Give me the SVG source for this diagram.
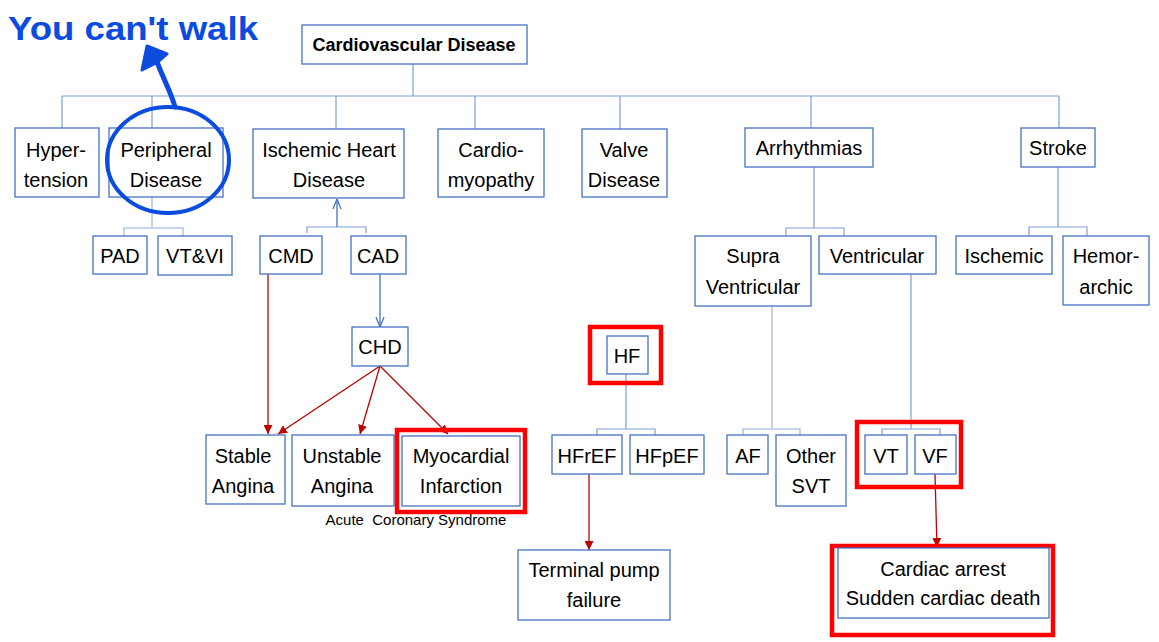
<svg xmlns="http://www.w3.org/2000/svg" width="1159" height="642" viewBox="0 0 1159 642">
<style>
.b{fill:#fff;stroke:#4472C4;stroke-width:1.3}
.t{font-family:"Liberation Sans",Arial,sans-serif;font-size:20px;fill:#000;text-anchor:middle}
.ln{fill:none;stroke:#7F9FDB;stroke-width:1.2}
.lt{fill:none;stroke:#B4C7E7;stroke-width:1.6}
.ra{fill:none;stroke:#C00000;stroke-width:1.3;marker-end:url(#rh)}
.ba{fill:none;stroke:#4472C4;stroke-width:1.3;marker-end:url(#bh)}
.hl{fill:none;stroke:#FF0000;stroke-width:4.5}
.ink{fill:none;stroke:#0B4BE0;stroke-linecap:round;stroke-linejoin:round}
</style>
<defs>
<marker id="rh" viewBox="0 0 10 10" refX="10" refY="5" markerWidth="9" markerHeight="9" markerUnits="userSpaceOnUse" orient="auto"><path d="M0,0 L10,5 L0,10 z" fill="#C00000"/></marker>
<marker id="bh" viewBox="0 0 10 10" refX="10" refY="5" markerWidth="10" markerHeight="10" markerUnits="userSpaceOnUse" orient="auto"><path d="M0,1 L10,5 L0,9" fill="none" stroke="#4472C4" stroke-width="1.3"/></marker>
</defs>
<rect width="1159" height="642" fill="#fff"/>
<g id="connectors">
<path class="ln" d="M413,64 V96 M62,96 H1059 M62,96 V128 M152,96 V128 M336,96 V129 M475,96 V129 M620,96 V129 M811,96 V128 M1059,96 V128"/>
<path class="lt" d="M152,197 V228 M124,236 V228 H183 V236"/>
<path class="ln" d="M307,233 V227 H366 V233"/>
<path class="ba" d="M337,227 V199"/>
<path class="ba" d="M380,274 V327"/>
<path class="ra" d="M268,274 V434"/>
<path class="ra" d="M380,366 L278,434"/>
<path class="ra" d="M380,366 L360,434"/>
<path class="ra" d="M380,366 L448,434"/>
<path class="ln" d="M814,167 V228 M786,236 V228 H844 V236"/>
<path class="ln" d="M1058,167 V227 M1029,236 V227 H1087 V236"/>
<path class="lt" d="M772,306 V429 M743,435 V429 H800 V435"/>
<path class="ln" d="M911,274 V429 M882,435 V429 H940 V435"/>
<path class="ln" d="M626,374 V429 M597,435 V429 H655 V435"/>
<path class="ra" d="M589,474 V550"/>
<path class="ra" d="M935,474 L937,547"/>
</g>
<g id="n-cvd"><rect class="b" x="302" y="25" width="225" height="39"/><text class="t" x="414" y="51" style="font-weight:bold;font-size:18px">Cardiovascular Disease</text></g>
<g id="n-htn"><rect class="b" x="15" y="128" width="84" height="69"/><text class="t" x="56" y="157">Hyper-</text><text class="t" x="56" y="187">tension</text></g>
<g id="n-pd"><rect class="b" x="109" y="128" width="114" height="69"/><text class="t" x="166" y="157">Peripheral</text><text class="t" x="166" y="187">Disease</text></g>
<g id="n-ihd"><rect class="b" x="253" y="129" width="151" height="69"/><text class="t" x="329" y="157">Ischemic Heart</text><text class="t" x="329" y="187">Disease</text></g>
<g id="n-cm"><rect class="b" x="438" y="129" width="106" height="68"/><text class="t" x="491" y="157">Cardio-</text><text class="t" x="491" y="187">myopathy</text></g>
<g id="n-valve"><rect class="b" x="582" y="129" width="85" height="68"/><text class="t" x="624" y="157">Valve</text><text class="t" x="624" y="187">Disease</text></g>
<g id="n-arr"><rect class="b" x="745" y="128" width="128" height="39"/><text class="t" x="809" y="155">Arrhythmias</text></g>
<g id="n-stroke"><rect class="b" x="1021" y="128" width="74" height="39"/><text class="t" x="1058" y="155">Stroke</text></g>
<g id="n-pad"><rect class="b" x="93" y="236" width="54" height="38"/><text class="t" x="120" y="263">PAD</text></g>
<g id="n-vtvi"><rect class="b" x="158" y="236" width="74" height="39"/><text class="t" x="195" y="263">VT&amp;VI</text></g>
<g id="n-cmd"><rect class="b" x="260" y="236" width="62" height="38"/><text class="t" x="291" y="263">CMD</text></g>
<g id="n-cad"><rect class="b" x="351" y="236" width="55" height="38"/><text class="t" x="378" y="263">CAD</text></g>
<g id="n-sv"><rect class="b" x="695" y="236" width="116" height="70"/><text class="t" x="753" y="263">Supra</text><text class="t" x="753" y="294">Ventricular</text></g>
<g id="n-vent"><rect class="b" x="819" y="236" width="117" height="38"/><text class="t" x="877" y="263">Ventricular</text></g>
<g id="n-isch"><rect class="b" x="956" y="236" width="96" height="38"/><text class="t" x="1004" y="263">Ischemic</text></g>
<g id="n-hem"><rect class="b" x="1063" y="236" width="86" height="69"/><text class="t" x="1106" y="263">Hemor-</text><text class="t" x="1106" y="294">archic</text></g>
<g id="n-chd"><rect class="b" x="352" y="327" width="56" height="39"/><text class="t" x="380" y="354">CHD</text></g>
<g id="n-hf"><rect class="hl" x="590" y="327" width="71" height="56"/><rect class="b" x="607" y="336" width="41" height="38"/><text class="t" x="627" y="363">HF</text></g>
<g id="n-sa"><rect class="b" x="206" y="435" width="79" height="69"/><text class="t" x="243" y="463">Stable</text><text class="t" x="243" y="493">Angina</text></g>
<g id="n-ua"><rect class="b" x="292" y="435" width="102" height="71"/><text class="t" x="342" y="463">Unstable</text><text class="t" x="342" y="493">Angina</text></g>
<g id="n-mi"><rect class="hl" x="397" y="430" width="128" height="82"/><rect class="b" x="402" y="436" width="118" height="70"/><text class="t" x="461" y="463">Myocardial</text><text class="t" x="461" y="493">Infarction</text></g>
<text x="416" y="525" style="font-family:'Liberation Sans',Arial,sans-serif;font-size:15px;text-anchor:middle" xml:space="preserve">Acute  Coronary Syndrome</text>
<g id="n-hfref"><rect class="b" x="552" y="435" width="70" height="39"/><text class="t" x="587" y="463">HFrEF</text></g>
<g id="n-hfpef"><rect class="b" x="630" y="435" width="74" height="39"/><text class="t" x="667" y="463">HFpEF</text></g>
<g id="n-af"><rect class="b" x="727" y="435" width="41" height="39"/><text class="t" x="748" y="463">AF</text></g>
<g id="n-svt"><rect class="b" x="776" y="435" width="70" height="71"/><text class="t" x="811" y="463">Other</text><text class="t" x="811" y="493">SVT</text></g>
<g id="n-vtvf-hl"><rect class="hl" x="857" y="422" width="104" height="65"/></g>
<g id="n-vt"><rect class="b" x="865" y="435" width="42" height="39"/><text class="t" x="886" y="463">VT</text></g>
<g id="n-vf"><rect class="b" x="915" y="435" width="41" height="39"/><text class="t" x="935" y="463">VF</text></g>
<g id="n-tpf"><rect class="b" x="518" y="550" width="152" height="70"/><text class="t" x="594" y="577">Terminal pump</text><text class="t" x="594" y="607">failure</text></g>
<g id="n-ca"><rect class="hl" x="832" y="546" width="221" height="89"/><rect class="b" x="838" y="548" width="211" height="70"/><text class="t" x="943" y="576">Cardiac arrest</text><text class="t" x="943" y="605">Sudden cardiac death</text></g>
<g id="annotation">
<ellipse class="ink" cx="168" cy="160" rx="61" ry="53" stroke-width="4"/>
<path class="ink" d="M175,107 C172,95 164,80 157,62" stroke-width="5"/>
<path d="M142,70 L147,46 L167,54 L158,62 Z" fill="#0B4BE0" stroke="#0B4BE0" stroke-width="3" stroke-linejoin="round"/>
<text x="8" y="40" textLength="250" lengthAdjust="spacingAndGlyphs" style="font-family:'Liberation Sans',Arial,sans-serif;font-size:34px;font-weight:bold;fill:#0B4BE0">You can't walk</text>
</g>
</svg>
